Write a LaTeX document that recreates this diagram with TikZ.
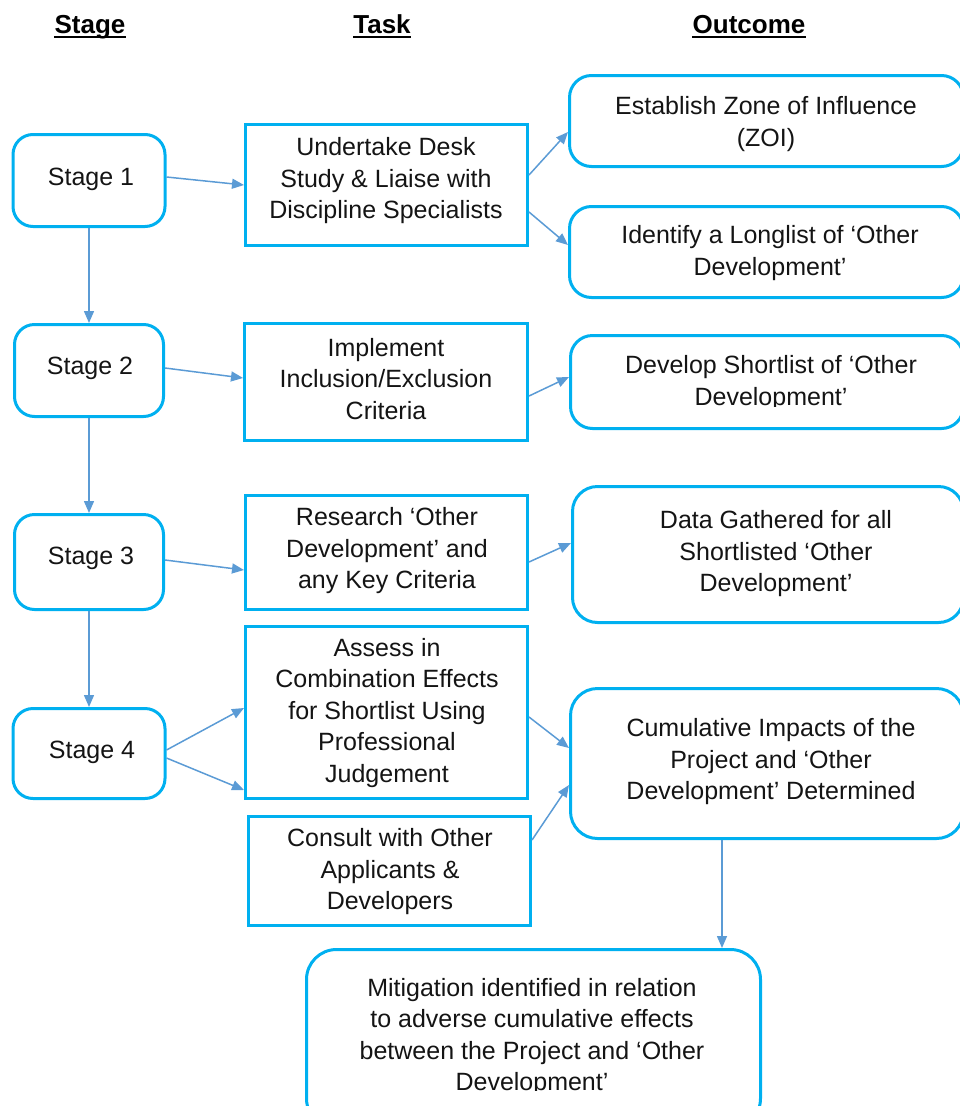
\documentclass[tikz,border=0pt]{standalone}
\usepackage{fontspec}
\setmainfont{Liberation Sans}
\usetikzlibrary{arrows.meta}
\definecolor{boxblue}{RGB}{0,176,240}
\definecolor{arrblue}{RGB}{91,155,213}
\definecolor{txtcol}{RGB}{20,20,20}
\begin{document}
\begin{tikzpicture}[x=1pt,y=-1pt,
  stagebox/.style={draw=boxblue, line width=3pt, rounded corners=20pt, inner sep=0pt},
  taskbox/.style={draw=boxblue, line width=3pt, inner sep=0pt},
  outbox/.style={draw=boxblue, line width=3pt, rounded corners=22pt, inner sep=0pt},
  body/.style={font=\fontsize{25}{31.5}\selectfont, text=txtcol, align=center, inner sep=0pt},
  head/.style={font=\bfseries\fontsize{26}{31}\selectfont, text=black, inner sep=0pt, anchor=base},
  uline/.style={draw=black, line width=2.5pt},
  conn/.style={draw=arrblue, line width=1.5pt, -{Triangle[length=12pt,width=10pt]}},
]
\useasboundingbox (0,0) rectangle (960,1106);
\clip (0,0) rectangle (960,1106);

% headers
\node[head] (hs) at (90,33) {Stage};
\node[head] (ht) at (382,33) {Task};
\node[head] (ho) at (749,33) {Outcome};
\draw[uline] ([yshift=-4pt]hs.base west) -- ([yshift=-4pt]hs.base east);
\draw[uline] ([yshift=-4pt]ht.base west) -- ([yshift=-4pt]ht.base east);
\draw[uline] ([yshift=-4pt]ho.base west) -- ([yshift=-4pt]ho.base east);

% stage boxes
\node[stagebox, minimum width=152pt, minimum height=92pt] (s1) at (89,180.5) {};
\node[stagebox, minimum width=149pt, minimum height=92pt] (s2) at (89,370.5) {};
\node[stagebox, minimum width=149pt, minimum height=95pt] (s3) at (89,562) {};
\node[stagebox, minimum width=152pt, minimum height=90pt] (s4) at (89,753.5) {};
\node[body] (s1t) at (91,179.5) {Stage 1};
\node[body] (s2t) at (90,368.5) {Stage 2};
\node[body] (s3t) at (91,558.5) {Stage 3};
\node[body] (s4t) at (92,752.5) {Stage 4};

% task boxes
\node[taskbox, minimum width=282pt, minimum height=121pt] (t1) at (386.5,185) {};
\node[taskbox, minimum width=283pt, minimum height=117pt] (t2) at (386,382) {};
\node[taskbox, minimum width=282pt, minimum height=114pt] (t3) at (386.5,552.5) {};
\node[taskbox, minimum width=282pt, minimum height=172pt] (t4) at (386.5,712.5) {};
\node[taskbox, minimum width=282pt, minimum height=109pt] (t5) at (389.5,871) {};
\node[body] (t1t) at (386,181) {Undertake Desk\\Study \& Liaise with\\Discipline Specialists};
\node[body] (t2t) at (386,379) {Implement\\Inclusion/Exclusion\\Criteria};
\node[body] (t3t) at (387,551) {Research ‘Other\\Development’ and\\any Key Criteria};
\node[body] (t4t) at (387,713) {Assess in\\Combination Effects\\for Shortlist Using\\Professional\\Judgement};
\node[body] (t5t) at (390,872) {Consult with Other\\Applicants \&\\Developers};

% outcome boxes
\node[outbox, minimum width=394pt, minimum height=91pt] (o1) at (766.5,121) {};
\node[outbox, minimum width=394pt, minimum height=91pt] (o2) at (766.5,252) {};
\node[outbox, minimum width=393pt, minimum height=93pt] (o3) at (767,382) {};
\node[outbox, rounded corners=25pt, minimum width=391pt, minimum height=136pt] (o4) at (768,554.5) {};
\node[outbox, rounded corners=27pt, minimum width=393pt, minimum height=150pt] (o5) at (767,763.5) {};
\node[outbox, rounded corners=30pt, minimum width=454pt, minimum height=179pt] (o6) at (533.5,1039) {};
\node[body] (o1t) at (766,124) {Establish Zone of Influence\\(ZOI)};
\node[body] (o2t) at (770,253) {Identify a Longlist of ‘Other\\Development’};
\begin{scope}
  \clip (560,330) rectangle (960,406);
  \node[body] (o3t) at (771,383) {Develop Shortlist of ‘Other\\Development’};
\end{scope}
\node[body] (o4t) at (776,554) {Data Gathered for all\\Shortlisted ‘Other\\Development’};
\node[body] (o5t) at (771,762) {Cumulative Impacts of the\\Project and ‘Other\\Development’ Determined};
\begin{scope}
  \clip (300,950) rectangle (770,1090);
  \node[body] (o6t) at (532,1037) {Mitigation identified in relation\\to adverse cumulative effects\\between the Project and ‘Other\\Development’};
\end{scope}

% connectors
\draw[conn] ([yshift=3.5pt]s1.east) -- (t1.west);
\draw[conn] (s1.south) -- (s1.south |- s2.north);
\draw[conn] ([yshift=10pt]t1.east) -- ([yshift=-11pt]o1.west);
\draw[conn] ([yshift=-27pt]t1.east) -- ([yshift=7pt]o2.west);
\draw[conn] ([yshift=2.5pt]s2.east) -- ([yshift=4pt]t2.west);
\draw[conn] (s2.south) -- (s2.south |- s3.north);
\draw[conn] ([yshift=-14pt]t2.east) -- ([yshift=5pt]o3.west);
\draw[conn] ([yshift=2pt]s3.east) -- ([yshift=-17.5pt]t3.west);
\draw[conn] ([yshift=-9.5pt]t3.east) -- ([yshift=11.5pt]o4.west);
\draw[conn] (s3.south) -- (s3.south |- s4.north);
\draw[conn] ([yshift=3.5pt]s4.east) -- ([yshift=4.5pt]t4.west);
\draw[conn] ([yshift=-4.5pt]s4.east) -- ([yshift=-77.5pt]t4.west);
\draw[conn] ([yshift=-4.5pt]t4.east) -- ([yshift=15.5pt]o5.west);
\draw[conn] ([yshift=31pt]t5.east) -- ([yshift=-21.5pt]o5.west);
\draw[conn] ([xshift=-45pt]o5.south) -- ([xshift=-45pt]o5.south |- o6.north);
\end{tikzpicture}
\end{document}
